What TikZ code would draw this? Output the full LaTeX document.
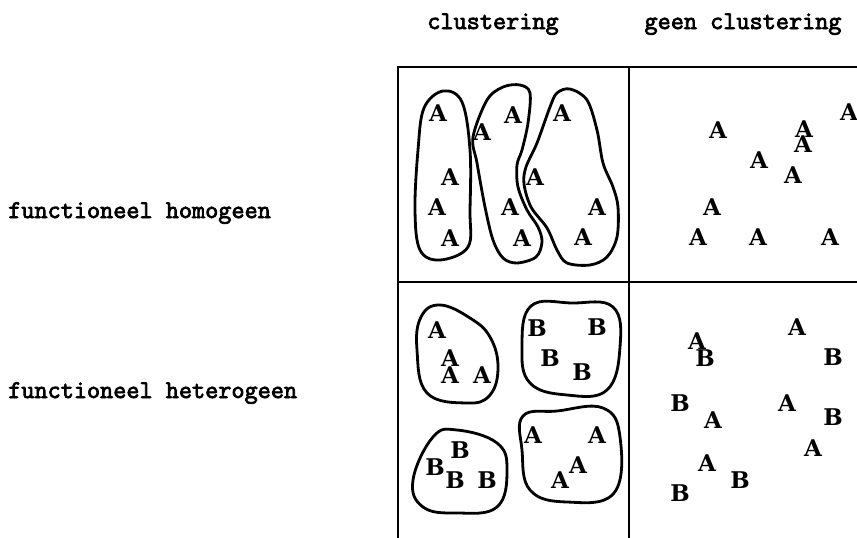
\documentclass[tikz,border=0pt]{standalone}
\usepackage{fontspec}
\newfontfamily\tw[FakeBold=3]{Latin Modern Mono}
\newfontfamily\lf{DejaVu Serif}
\begin{document}
\begin{tikzpicture}[x=1pt,y=-1pt,
  lbl/.style={font=\tw\fontsize{25.5}{28}\selectfont, inner sep=0pt},
  ltr/.style={font=\lf\bfseries\fontsize{23}{25}\selectfont, inner sep=0pt},
  frame/.style={line width=2.6pt, black},
  blob/.style={line width=2.8pt, black}]
\useasboundingbox (0,0) rectangle (857,538);
% headers
\node[lbl, anchor=base] (h1) at (493,29) {clustering};
\node[lbl, anchor=base] (h2) at (743,29) {geen clustering};
\node[lbl, anchor=base west] (r1) at (8,218) {functioneel homogeen};
\node[lbl, anchor=base west] (r2) at (8,398) {functioneel heterogeen};
% frame
\draw[frame] (397,67) -- (857,67);
\draw[frame] (398,67) -- (398,538);
\draw[frame] (629,67) -- (629,538);
\draw[frame] (398,282) -- (857,282);
% blobs top-left
\draw[blob] plot[smooth cycle, tension=0.6] coordinates {(443,91) (462,102) (470,150) (470,210) (468,247) (440,260) (420,250) (415,210) (418,150) (424,108)};
\draw[blob] plot[smooth cycle, tension=0.55] coordinates {(473,137) (487,100) (503,87) (520,85) (530,93) (528,123) (522,150) (517,165) (518,187) (527,210) (538,227) (542,242) (536,257) (517,263) (503,258) (493,240) (485,207) (477,163)};
\draw[blob] plot[smooth cycle, tension=0.55] coordinates {(557,93) (570,89) (587,100) (597,130) (603,163) (613,187) (618,207) (617,237) (607,257) (590,265) (567,263) (557,250) (547,228) (531,207) (524,184) (526,167) (537,143) (550,107)};
% letters top-left
\node[ltr] (a1) at (438,113) {A};
\node[ltr] (a2) at (450,177) {A};
\node[ltr] (a3) at (437,207) {A};
\node[ltr] (a4) at (450,238) {A};
\node[ltr] (a5) at (482,132) {A};
\node[ltr] (a6) at (513,115) {A};
\node[ltr] (a7) at (510,207) {A};
\node[ltr] (a8) at (522,238) {A};
\node[ltr] (a9) at (562,113) {A};
\node[ltr] (a10) at (535,177) {A};
\node[ltr] (a11) at (597,207) {A};
\node[ltr] (a12) at (583,237) {A};
% top-right scatter
\node[ltr] (b1) at (718,130) {A};
\node[ltr] (b2) at (804,129) {A};
\node[ltr] (b3) at (803,144) {A};
\node[ltr] (b4) at (849,112) {A};
\node[ltr] (b5) at (759,160) {A};
\node[ltr] (b6) at (793,175) {A};
\node[ltr] (b7) at (712,207) {A};
\node[ltr] (b8) at (698,237) {A};
\node[ltr] (b9) at (758,237) {A};
\node[ltr] (b10) at (830,237) {A};
% bottom-left blobs
\draw[blob] plot[smooth cycle, tension=0.7] coordinates {(440,305) (470,318) (490,337) (498,367) (490,395) (467,403) (427,393) (417,350) (421,317)};
\draw[blob] plot[smooth cycle, tension=0.7] coordinates {(531,306) (572,303) (613,307) (620,347) (607,390) (567,395) (530,383) (522,347)};
\draw[blob] plot[smooth cycle, tension=0.7] coordinates {(457,430) (497,443) (507,470) (497,507) (457,513) (423,507) (413,480) (433,437)};
\draw[blob] plot[smooth cycle, tension=0.7] coordinates {(523,416) (557,411) (603,408) (620,437) (614,493) (567,502) (530,490) (522,450)};
\node[ltr] (c1) at (437,330) {A};
\node[ltr] (c2) at (450,358) {A};
\node[ltr] (c3) at (450,375) {A};
\node[ltr] (c4) at (482,375) {A};
\node[ltr] (c5) at (537,328) {B};
\node[ltr] (c6) at (597,327) {B};
\node[ltr] (c7) at (550,358) {B};
\node[ltr] (c8) at (582,372) {B};
\node[ltr] (c9) at (460,450) {B};
\node[ltr] (c10) at (435,467) {B};
\node[ltr] (c11) at (455,480) {B};
\node[ltr] (c12) at (487,480) {B};
\node[ltr] (c13) at (533,435) {A};
\node[ltr] (c14) at (597,435) {A};
\node[ltr] (c15) at (578,465) {A};
\node[ltr] (c16) at (560,480) {A};
% bottom-right scatter
\node[ltr] (d1) at (697,341) {A};
\node[ltr] (d2) at (705,358) {B};
\node[ltr] (d3) at (797,327) {A};
\node[ltr] (d4) at (833,357) {B};
\node[ltr] (d5) at (680,403) {B};
\node[ltr] (d6) at (713,420) {A};
\node[ltr] (d7) at (787,403) {A};
\node[ltr] (d8) at (833,417) {B};
\node[ltr] (d9) at (813,448) {A};
\node[ltr] (d10) at (707,463) {A};
\node[ltr] (d11) at (740,480) {B};
\node[ltr] (d12) at (680,493) {B};
\end{tikzpicture}
\end{document}
